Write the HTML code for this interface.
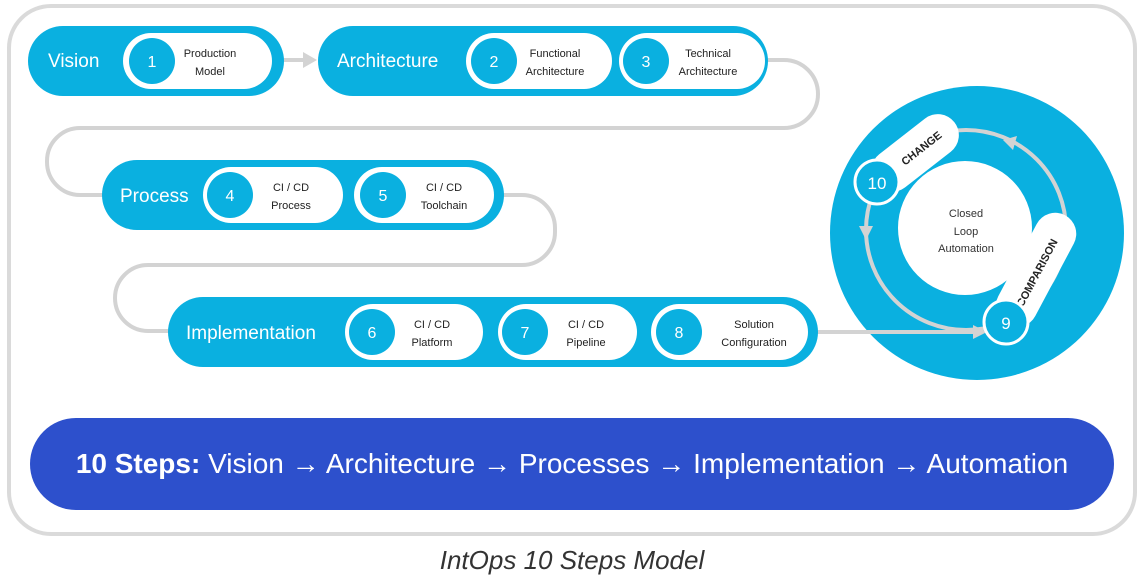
<!DOCTYPE html>
<html><head><meta charset="utf-8"><style>
html,body{margin:0;padding:0;background:#fff;width:1144px;height:582px;overflow:hidden}
svg{display:block;font-family:"Liberation Sans",sans-serif}
</style></head><body>
<svg width="1144" height="582" viewBox="0 0 1144 582">
<rect x="9" y="6" width="1126" height="528" rx="42" fill="#fff" stroke="#dadada" stroke-width="4"/>
<g fill="none" stroke="#d3d3d3" stroke-width="4">
<path d="M760,60 H784 A34,34 0 0 1 818,94 V94 A34,34 0 0 1 784,128 H80 A33,33 0 0 0 47,161 V162 A33,33 0 0 0 80,195 H110"/>
<path d="M500,195 H522 A33,33 0 0 1 555,228 V232 A33,33 0 0 1 522,265 H148 A33,33 0 0 0 115,298 A33,33 0 0 0 148,331 H175"/>
<path d="M275,60 H304"/>
</g>
<path d="M317,60 l-14,-8 v16z" fill="#d3d3d3"/>
<circle cx="977" cy="233" r="147" fill="#0ab0e0"/>
<circle cx="966" cy="230" r="100" fill="none" stroke="#d3d3d3" stroke-width="4"/>
<path d="M866,240 l-7,-14 h14z" fill="#d3d3d3"/>
<path d="M1003,140 l14,-4 l-4,14z" fill="#d3d3d3"/>
<path d="M808,332 H975" stroke="#d3d3d3" stroke-width="4"/>
<path d="M987,332 l-14,-7 v14z" fill="#d3d3d3"/>
<circle cx="965" cy="228" r="67" fill="#fff"/>
<text x="966" y="217" font-size="11" text-anchor="middle" fill="#333">Closed</text>
<text x="966" y="235" font-size="11" text-anchor="middle" fill="#333">Loop</text>
<text x="966" y="252" font-size="11" text-anchor="middle" fill="#333">Automation</text>
<g transform="translate(915,153) rotate(-38)">
<rect x="-50" y="-21" width="100" height="42" rx="21" fill="#fff"/>
<text x="8" y="4" font-size="11" font-weight="bold" text-anchor="middle" fill="#222">CHANGE</text></g>
<g transform="translate(1036,270) rotate(-62)">
<rect x="-62" y="-21" width="124" height="42" rx="21" fill="#fff"/>
<text x="-2" y="6" font-size="11" font-weight="bold" text-anchor="middle" fill="#222">COMPARISON</text></g>
<circle cx="877" cy="182" r="22" fill="#0ab0e0" stroke="#fff" stroke-width="3"/>
<text x="877" y="189" font-size="17" text-anchor="middle" fill="#fff">10</text>
<circle cx="1006" cy="322" r="22" fill="#0ab0e0" stroke="#fff" stroke-width="3"/>
<text x="1006" y="329" font-size="17" text-anchor="middle" fill="#fff">9</text>
<g fill="#0ab0e0">
<rect x="28" y="26" width="256" height="70" rx="35"/>
<rect x="318" y="26" width="450" height="70" rx="35"/>
<rect x="102" y="160" width="402" height="70" rx="35"/>
<rect x="168" y="297" width="650" height="70" rx="35"/>
</g>
<g font-size="19" fill="#fff">
<text x="48" y="67">Vision</text>
<text x="337" y="67">Architecture</text>
<text x="120" y="202">Process</text>
<text x="186" y="339">Implementation</text>
</g>
<g fill="#fff">
<rect x="123" y="33" width="149" height="56" rx="28"/>
<rect x="466" y="33" width="146" height="56" rx="28"/>
<rect x="619" y="33" width="146" height="56" rx="28"/>
<rect x="203" y="167" width="140" height="56" rx="28"/>
<rect x="354" y="167" width="140" height="56" rx="28"/>
<rect x="345" y="304" width="138" height="56" rx="28"/>
<rect x="498" y="304" width="139" height="56" rx="28"/>
<rect x="651" y="304" width="157" height="56" rx="28"/>
</g>
<g fill="#0ab0e0">
<circle cx="152" cy="61" r="23"/><circle cx="494" cy="61" r="23"/><circle cx="646" cy="61" r="23"/>
<circle cx="230" cy="195" r="23"/><circle cx="383" cy="195" r="23"/>
<circle cx="372" cy="332" r="23"/><circle cx="525" cy="332" r="23"/><circle cx="679" cy="332" r="23"/>
</g>
<g font-size="16" fill="#fff" text-anchor="middle">
<text x="152" y="67">1</text><text x="494" y="67">2</text><text x="646" y="67">3</text>
<text x="230" y="201">4</text><text x="383" y="201">5</text>
<text x="372" y="338">6</text><text x="525" y="338">7</text><text x="679" y="338">8</text>
</g>
<g font-size="11" fill="#222" text-anchor="middle">
<text x="210" y="57">Production</text><text x="210" y="75">Model</text>
<text x="555" y="57">Functional</text><text x="555" y="75">Architecture</text>
<text x="708" y="57">Technical</text><text x="708" y="75">Architecture</text>
<text x="291" y="191">CI / CD</text><text x="291" y="209">Process</text>
<text x="444" y="191">CI / CD</text><text x="444" y="209">Toolchain</text>
<text x="432" y="328">CI / CD</text><text x="432" y="346">Platform</text>
<text x="586" y="328">CI / CD</text><text x="586" y="346">Pipeline</text>
<text x="754" y="328">Solution</text><text x="754" y="346">Configuration</text>
</g>
<rect x="30" y="418" width="1084" height="92" rx="46" fill="#2d50cc"/>
<text x="572" y="473" font-size="28" fill="#fff" text-anchor="middle"><tspan font-weight="bold">10 Steps:</tspan> Vision → Architecture → Processes → Implementation → Automation</text>
<text x="572" y="569" font-size="26" font-style="italic" fill="#333" text-anchor="middle">IntOps 10 Steps Model</text>
</svg>
</body></html>
